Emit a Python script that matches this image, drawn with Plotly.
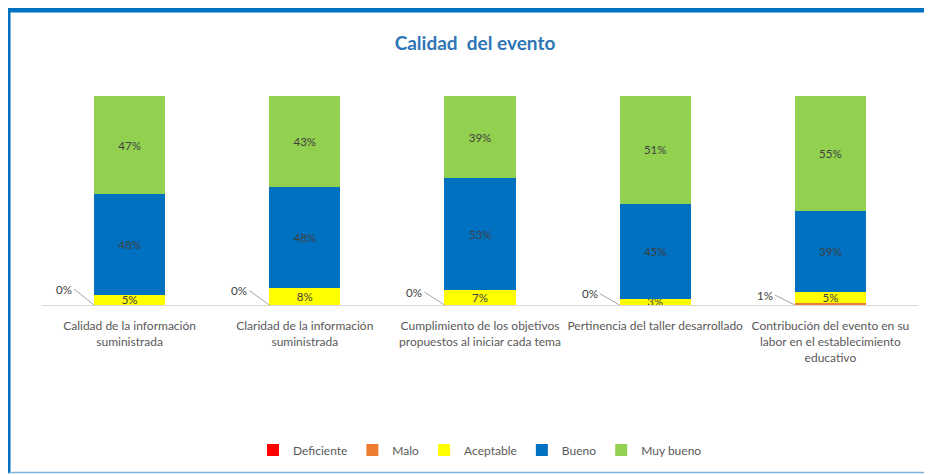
import plotly.graph_objects as go

categories = [
    "Calidad de la información<br>suministrada",
    "Claridad de la información<br>suministrada",
    "Cumplimiento de los objetivos<br>propuestos al iniciar cada tema",
    "Pertinencia del taller desarrollado",
    "Contribución del evento en su<br>labor en el establecimiento<br>educativo",
]
deficiente = [0, 0, 0, 0, 0]
malo = [0, 0, 0, 0, 1]
aceptable = [5, 8, 7, 3, 5]
bueno = [48, 48, 53, 45, 39]
muy_bueno = [47, 43, 39, 51, 55]

series = [
    ("Deficiente", deficiente, "#ff0000", False),
    ("Malo", malo, "#ed7d31", False),
    ("Aceptable", aceptable, "#ffff00", True),
    ("Bueno", bueno, "#0070c0", True),
    ("Muy bueno", muy_bueno, "#92d050", True),
]

FONT = "Lato, Roboto, sans-serif"
xs = list(range(len(categories)))

# page body has an 8px default margin: figure is drawn 8px in from the window edge
W, H = 924, 467
PL, PT, PW, PH = 34, 88, 876, 210  # plot area in figure pixels


def px(xf):
    return (xf - PL) / PW


def py(yf):
    return (PT + PH - yf) / PH


fig = go.Figure()
for name, vals, color, show_text in series:
    fig.add_trace(go.Bar(
        name=name, x=xs, y=vals,
        marker=dict(color=color, line=dict(width=0)),
        text=[f"{v}%" for v in vals] if show_text else None,
        textposition="inside" if show_text else "none",
        insidetextanchor="middle",
        textfont=dict(family=FONT, size=11.5, color="#404040"),
        hoverinfo="skip",
    ))

# Callout labels for the small (0% / 1%) segments
half_w = 0.203
for i, v in enumerate(malo):
    fig.add_annotation(
        x=i - half_w, y=0, xref="x", yref="y",
        text=f"{v}%", showarrow=True, arrowhead=0, arrowwidth=1,
        arrowcolor="#a6a6a6", ax=-20, ay=-16 + (i * 1.5),
        xanchor="right", font=dict(family=FONT, size=11.5, color="#404040"),
    )

# Frame
fig.add_shape(type="line", xref="paper", yref="paper",
              x0=px(0), x1=px(W + 5), y0=py(1.5), y1=py(1.5),
              line=dict(color="#0070c0", width=5))
fig.add_shape(type="line", xref="paper", yref="paper",
              x0=px(1), x1=px(1), y0=py(0), y1=py(H),
              line=dict(color="#0070c0", width=3))
fig.add_shape(type="line", xref="paper", yref="paper",
              x0=px(1), x1=px(W + 5), y0=py(466.3), y1=py(466.3),
              line=dict(color="#7fb0d8", width=1.5))

fig.update_layout(
    width=W, height=H,
    barmode="stack", barnorm="percent", bargap=0.594,
    paper_bgcolor="white", plot_bgcolor="white",
    margin=dict(l=PL, r=W - PL - PW, t=PT, b=H - PT - PH),
    title=dict(text="<b>Calidad  del evento</b>", x=(475 - 8) / W, xanchor="center",
               y=1 - 35 / H, yanchor="middle",
               font=dict(family=FONT, size=19, color="#2e75b6")),
    uniformtext=dict(minsize=11, mode="show"),
    showlegend=True,
    legend=dict(orientation="h", x=0.5, xanchor="center", y=py(442), yanchor="middle",
                font=dict(family=FONT, size=12, color="#595959"),
                itemwidth=30, traceorder="normal"),
    xaxis=dict(tickmode="array", tickvals=xs, ticktext=categories,
               range=[-0.5, len(categories) - 0.5], tickangle=0,
               showline=True, linecolor="#d9d9d9", linewidth=1,
               ticks="outside", ticklen=10, tickcolor="rgba(0,0,0,0)", showgrid=False,
               tickfont=dict(family=FONT, size=12, color="#595959")),
    yaxis=dict(visible=False, range=[0, 100]),
)

fig.write_html("out.html")
